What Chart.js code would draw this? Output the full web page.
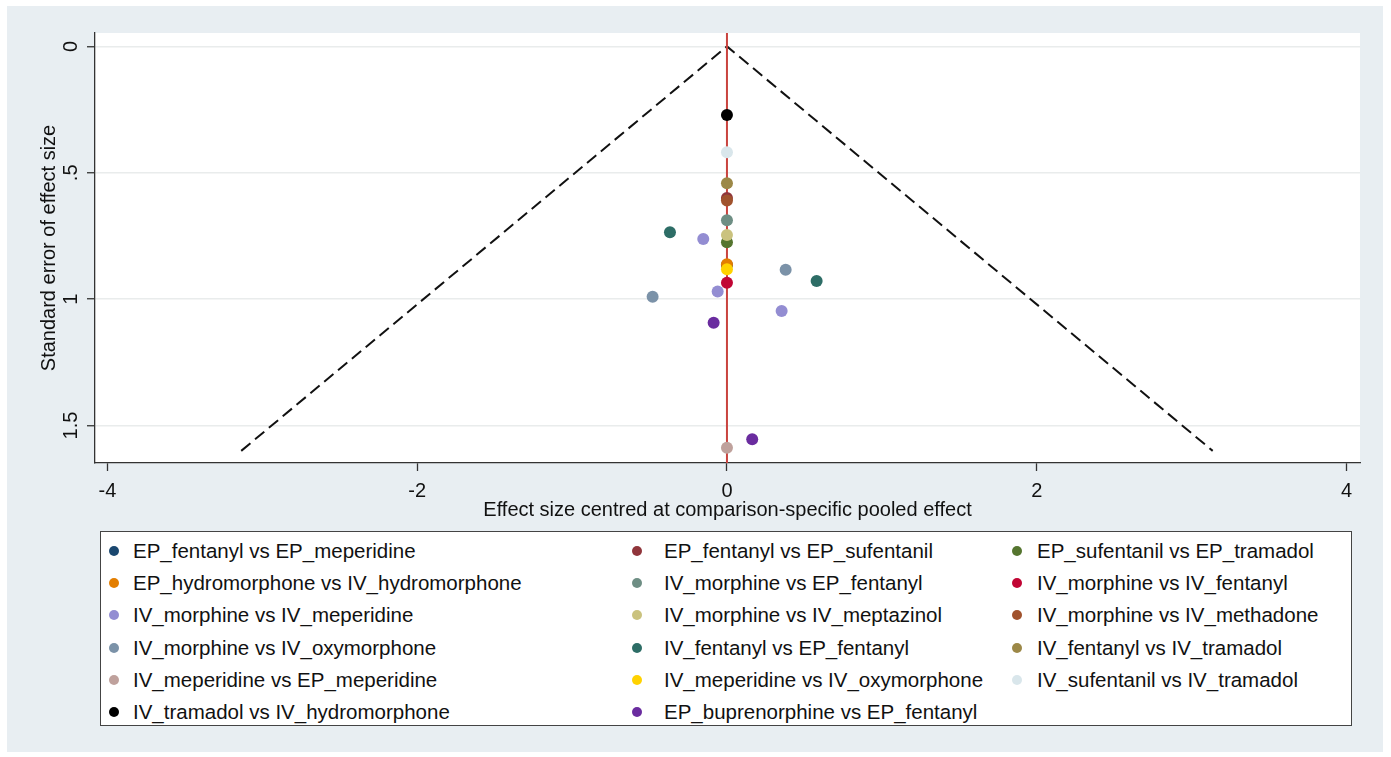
<!DOCTYPE html>
<html><head><meta charset="utf-8">
<script src="https://cdn.jsdelivr.net/npm/chart.js@4.4.1/dist/chart.umd.min.js"></script>
<style>
html,body{margin:0;padding:0;background:#fff;width:1391px;height:757px;overflow:hidden;font-family:"Liberation Sans",Arial,sans-serif;}
#panel{position:absolute;left:7px;top:6px;width:1376px;height:746px;background:#e8eef2;}
#wrap{position:absolute;left:0;top:0;width:1391px;height:530px;}
#legend{position:absolute;left:100px;top:531px;width:1250px;height:193px;background:#fff;border:1px solid #444;}
.item{position:absolute;font-size:20.5px;color:#111;white-space:nowrap;line-height:24px;}
.dot{position:absolute;width:10px;height:10px;border-radius:50%;}
</style>
</head><body>
<div id="panel"></div>
<div id="wrap"><canvas id="c" width="1391" height="530"></canvas></div>
<div id="legend"></div>
<script>
// ---- data ----
const seriesNames = [
  "EP_fentanyl vs EP_meperidine",
  "EP_fentanyl vs EP_sufentanil",
  "EP_sufentanil vs EP_tramadol",
  "EP_hydromorphone vs IV_hydromorphone",
  "IV_morphine vs EP_fentanyl",
  "IV_morphine vs IV_fentanyl",
  "IV_morphine vs IV_meperidine",
  "IV_morphine vs IV_meptazinol",
  "IV_morphine vs IV_methadone",
  "IV_morphine vs IV_oxymorphone",
  "IV_fentanyl vs EP_fentanyl",
  "IV_fentanyl vs IV_tramadol",
  "IV_meperidine vs EP_meperidine",
  "IV_meperidine vs IV_oxymorphone",
  "IV_sufentanil vs IV_tramadol",
  "IV_tramadol vs IV_hydromorphone",
  "EP_buprenorphine vs EP_fentanyl"
];
// centred effect sizes (x) for each series
const effectSizes = [
  [0], [0], [0], [0], [0], [0],
  [-0.153, -0.06, 0.353],
  [0], [0],
  [0.379, -0.48],
  [-0.368, 0.579],
  [0], [0], [0], [0], [0],
  [-0.086, 0.163]
];
// standard errors (y) for each series
const standardErrors = [
  [0.865], [0.600], [0.775], [0.862], [0.688], [0.935],
  [0.762, 0.970, 1.047],
  [0.746], [0.610],
  [0.884, 0.990],
  [0.735, 0.928],
  [0.541], [1.588], [0.882], [0.419], [0.271],
  [1.093, 1.554]
];
const maxSE = 1.6;           // funnel depth
const zCrit = 1.96;          // 95% pseudo-confidence limits
const xTickValues = [-4, -2, 0, 2, 4];
const yTickValues = [0, 0.5, 1, 1.5];
const yTickLabels = ["0", ".5", "1", "1.5"];
const xRange = [-4.08, 4.087];
const yRange = [-0.053, 1.648];

// ---- styles ----
const seriesColors = ["#1a476f","#90353b","#55752f","#e37e00","#6e8e84","#c10534","#938dd2","#cac27e",
  "#a0522d","#7b92a8","#2d6d66","#9c8847","#bfa19c","#ffd200","#d9e6eb","#000000","#6a2c9f"];

const datasets = [];
datasets.push({
  type:'line', label:'funnel',
  data:[{x:-zCrit*maxSE,y:maxSE},{x:0,y:0},{x:zCrit*maxSE,y:maxSE}],
  borderColor:'#111', borderWidth:2, borderDash:[12,6], pointRadius:0, fill:false, tension:0, order:1000
});
datasets.push({
  type:'line', label:'null',
  data:[{x:0,y:yRange[0]},{x:0,y:yRange[1]}],
  borderColor:'#c9433f', borderWidth:2, pointRadius:0, fill:false, order:999
});
seriesNames.forEach((n,i)=>{
  datasets.push({
    type:'scatter', label:n,
    data:effectSizes[i].map((x,j)=>({x:x,y:standardErrors[i][j]})),
    backgroundColor:seriesColors[i], borderColor:seriesColors[i], borderWidth:0,
    pointRadius:6, order:100-i
  });
});

const bgPlugin = {id:'bg', beforeDraw(c){const {ctx,chartArea:a}=c;ctx.save();ctx.fillStyle='#fff';
  ctx.fillRect(a.left,a.top,a.right-a.left,a.bottom-a.top);ctx.restore();}};

const font20 = {family:'"Liberation Sans", Arial, sans-serif', size:20};
new Chart(document.getElementById('c'), {
  data:{datasets},
  plugins:[bgPlugin],
  options:{
    responsive:false, animation:false, events:[],
    layout:{padding:{left:0,top:33,right:31,bottom:0}},
    plugins:{legend:{display:false}, tooltip:{enabled:false}},
    scales:{
      x:{type:'linear', position:'bottom', min:xRange[0], max:xRange[1],
        afterBuildTicks(s){s.ticks = xTickValues.map(v=>({value:v}));},
        afterFit(s){s.height=67;},
        ticks:{font:font20, color:'#111', padding:8, maxRotation:0, callback:(v)=>String(v)},
        grid:{drawOnChartArea:false, drawTicks:true, tickLength:8, tickColor:'#333', tickWidth:1.3},
        border:{color:'#333', width:1.3},
        title:{display:true, text:'Effect size centred at comparison-specific pooled effect', font:font20, color:'#111', padding:{top:0,bottom:8}}
      },
      y:{type:'linear', position:'left', reverse:true, min:yRange[0], max:yRange[1],
        afterBuildTicks(s){s.ticks = yTickValues.map(v=>({value:v}));},
        afterFit(s){s.width=95;},
        ticks:{font:font20, color:'#111', padding:2, minRotation:90, maxRotation:90, crossAlign:'center',
          callback:(v)=>{const k=yTickValues.indexOf(v);return k>=0?yTickLabels[k]:'';}},
        grid:{drawOnChartArea:true, color:'#e9ecec', lineWidth:1.5, drawTicks:true, tickLength:8, tickColor:'#333', tickWidth:1.3},
        border:{color:'#333', width:1.3},
        title:{display:true, text:'Standard error of effect size', font:font20, color:'#111', padding:{top:37,bottom:0}}
      }
    }
  }
});

// ---- legend (HTML) ----
const leg = document.getElementById('legend');
const dotX = [13, 536, 916], textX = [32, 563, 936];
seriesNames.forEach((n,i)=>{
  const r = Math.floor(i/3), c = i%3;
  const cy = 19 + 32.2*r;
  const d = document.createElement('div'); d.className='dot';
  d.style.left=(dotX[c]-5)+'px'; d.style.top=(cy-5)+'px'; d.style.background=seriesColors[i];
  leg.appendChild(d);
  const t = document.createElement('div'); t.className='item'; t.textContent=n;
  t.style.left=textX[c]+'px'; t.style.top=(cy-12)+'px';
  leg.appendChild(t);
});
</script>
</body></html>
